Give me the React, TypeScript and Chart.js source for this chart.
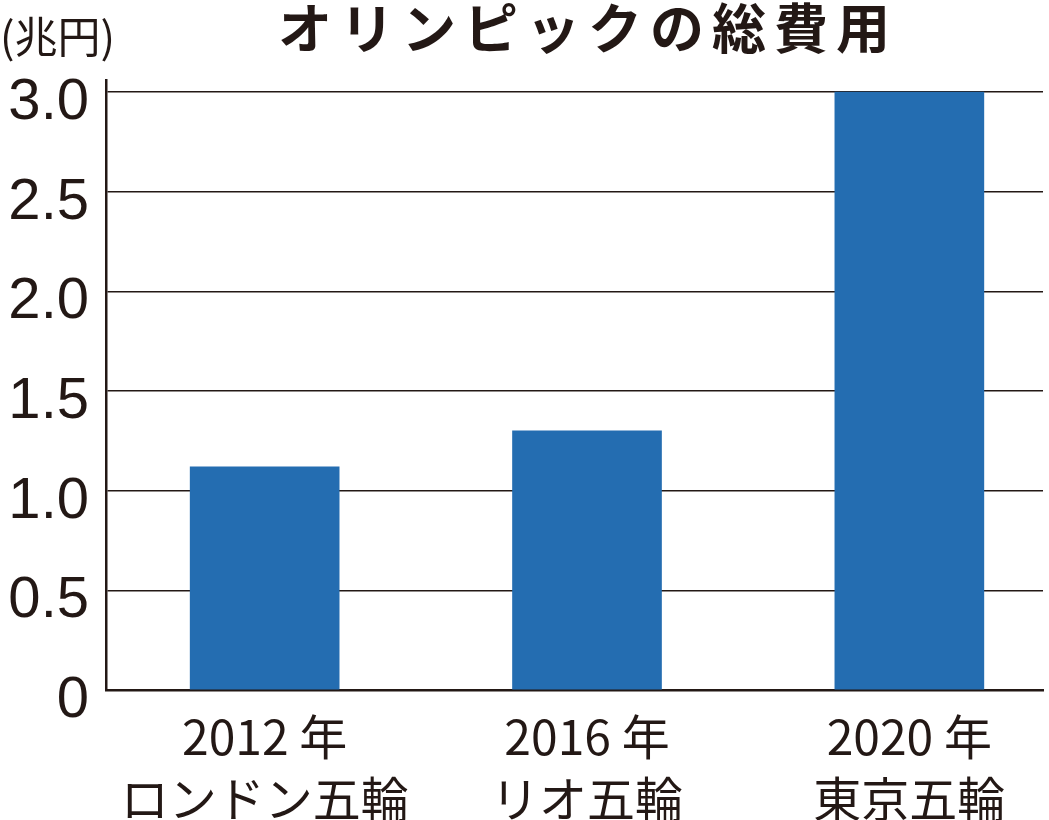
import React, { useEffect, useRef } from "react";
import { Chart, registerables } from "chart.js";

Chart.register(...registerables);

const TITLE = "オリンピックの総費用";
const UNIT = "(兆円)";
const categories: string[][] = [
  ["2012 年", "ロンドン五輪"],
  ["2016 年", "リオ五輪"],
  ["2020 年", "東京五輪"],
];
const costs = [1.12, 1.3, 3.0];
const yTicks = [0, 0.5, 1.0, 1.5, 2.0, 2.5, 3.0];

const INK = "#231815";
const BAR = "#246db1";

const textPlugin = {
  id: "textPlugin",
  afterDraw(chart: any) {
    const ctx = chart.ctx as CanvasRenderingContext2D;
    ctx.save();
    ctx.fillStyle = INK;
    ctx.textBaseline = "middle";
    // title
    ctx.font = "bold 54px 'Noto Sans CJK JP'";
    (ctx as any).letterSpacing = "8px";
    ctx.textAlign = "center";
    ctx.fillText(TITLE, 588, 28);
    // unit
    ctx.font = "43px 'Noto Sans CJK JP'";
    (ctx as any).letterSpacing = "0px";
    ctx.textAlign = "left";
    ctx.fillText(UNIT, 0, 37);
    ctx.restore();
  },
};

export default function App() {
  const ref = useRef<HTMLCanvasElement | null>(null);
  useEffect(() => {
    if (!ref.current) return;
    const chart = new Chart(ref.current, {
      type: "bar",
      data: {
        datasets: [
          {
            data: costs.map((v, i) => ({ x: i, y: v })),
            backgroundColor: BAR,
            barThickness: 149,
          },
        ],
      },
      options: {
        responsive: false,
        animation: false,
        layout: { padding: { top: 80, right: 6, left: 0, bottom: 0 } },
        plugins: {
          legend: { display: false },
          tooltip: { enabled: false },
          title: { display: false },
        },
        scales: {
          x: {
            type: "linear",
            offset: false,
            min: -0.4922,
            max: 2.4146,
            afterBuildTicks: (axis: any) => {
              axis.ticks = categories.map((_, i) => ({ value: i }));
            },
            afterFit: (axis: any) => {
              axis.height = 130;
            },
            grid: { display: false, drawTicks: false, offset: false },
            border: { display: true, color: INK, width: 2.5 },
            ticks: {
              autoSkip: false,
              maxRotation: 0,
              padding: 16,
              color: INK,
              font: { family: "'Noto Sans CJK JP'", size: 48, lineHeight: 1.29 },
              callback: (v: any) => categories[Math.round(Number(v))] ?? "",
            },
          },
          y: {
            min: 0,
            max: 3.06,
            afterBuildTicks: (axis: any) => {
              axis.ticks = yTicks.map((v) => ({ value: v }));
            },
            afterFit: (axis: any) => {
              axis.width = 106;
            },
            grid: { color: INK, lineWidth: 1.5, drawTicks: false },
            border: { display: true, color: INK, width: 2.5 },
            ticks: {
              padding: 17,
              labelOffset: 11,
              color: INK,
              font: { family: "'Liberation Sans'", size: 58 },
              callback: (v: any) => (Number(v) === 0 ? "0" : Number(v).toFixed(1)),
            },
          },
        },
      },
      plugins: [textPlugin],
    } as any);
    return () => chart.destroy();
  }, []);
  return (
    <div style={{ position: "fixed", left: 0, top: 0, width: 1049, height: 820, background: "#fff" }}>
      <canvas ref={ref} width={1049} height={820} style={{ display: "block" }} />
    </div>
  );
}
